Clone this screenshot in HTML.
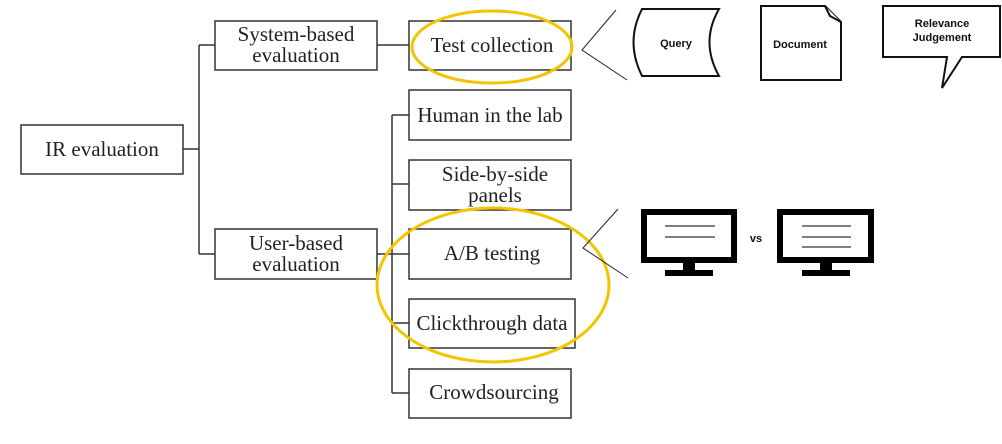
<!DOCTYPE html>
<html><head><style>body{margin:0;background:#fff}</style></head><body>
<svg width="1002" height="439" xmlns="http://www.w3.org/2000/svg">
<g fill="#fff" stroke="#333" stroke-width="1.5">
<rect x="21" y="125" width="162" height="49"/>
<rect x="215" y="21" width="162" height="49"/>
<rect x="215" y="229" width="162" height="50"/>
<rect x="409" y="21" width="162" height="49"/>
<rect x="409" y="90" width="162" height="50"/>
<rect x="409" y="160" width="162" height="50"/>
<rect x="409" y="229" width="162" height="50"/>
<rect x="409" y="299" width="166" height="49"/>
<rect x="409" y="369" width="162" height="49"/>
</g>
<g fill="none" stroke="#333" stroke-width="1.5">
<path d="M183 149H199M199 45V254M199 45H215M199 254H215M377 45H409M377 254H409M392 115V393M392 115H409M392 184H409M392 323H409M392 393H409"/>
</g>
<g font-family="Liberation Serif, serif" font-size="21" fill="#222" text-anchor="middle">
<text x="102" y="156">IR evaluation</text>
<text x="296" y="41">System-based</text><text x="296" y="62">evaluation</text>
<text x="296" y="250">User-based</text><text x="296" y="271">evaluation</text>
<text x="492" y="52">Test collection</text>
<text x="490" y="122">Human in the lab</text>
<text x="495" y="181">Side-by-side</text><text x="495" y="202">panels</text>
<text x="492" y="260">A/B testing</text>
<text x="492" y="330">Clickthrough data</text>
<text x="494" y="399">Crowdsourcing</text>
</g>
<g fill="none" stroke="#f2c500" stroke-width="3">
<ellipse cx="492" cy="47" rx="80" ry="36"/>
<ellipse cx="493" cy="285" rx="116" ry="77"/>
</g>
<g fill="none" stroke="#222" stroke-width="1">
<path d="M616 10L582 50L627 80"/>
<path d="M618 209L583 248L628 278"/>
</g>
<g fill="#fff" stroke="#111" stroke-width="2">
<path d="M642 9H719Q700 42 719 76H642Q625 42 642 9Z"/>
<path d="M761 6H825L841 22V80H761Z"/>
<path d="M825 6L830 16L841 22" />
<path d="M883 6H1000V57H962L942 88L947 57H883Z"/>
</g>
<g font-family="Liberation Sans, sans-serif" font-size="11" font-weight="bold" fill="#111" text-anchor="middle">
<text x="676" y="47">Query</text>
<text x="800" y="48">Document</text>
<text x="942" y="27">Relevance</text><text x="942" y="41">Judgement</text>
<text x="756" y="242">vs</text>
</g>
<g fill="none" stroke="#000">
<rect x="644" y="212" width="90" height="48" stroke-width="6"/>
<rect x="780" y="212" width="91" height="48" stroke-width="6"/>
<path d="M665 226H715M665 237H715M802 226H851M802 237H851M802 247H851" stroke-width="1"/>
</g>
<g fill="#000">
<rect x="683" y="263" width="12" height="8"/><rect x="665" y="270" width="48" height="6"/>
<rect x="820" y="263" width="12" height="8"/><rect x="802" y="270" width="48" height="6"/>
</g>
</svg>
</body></html>
